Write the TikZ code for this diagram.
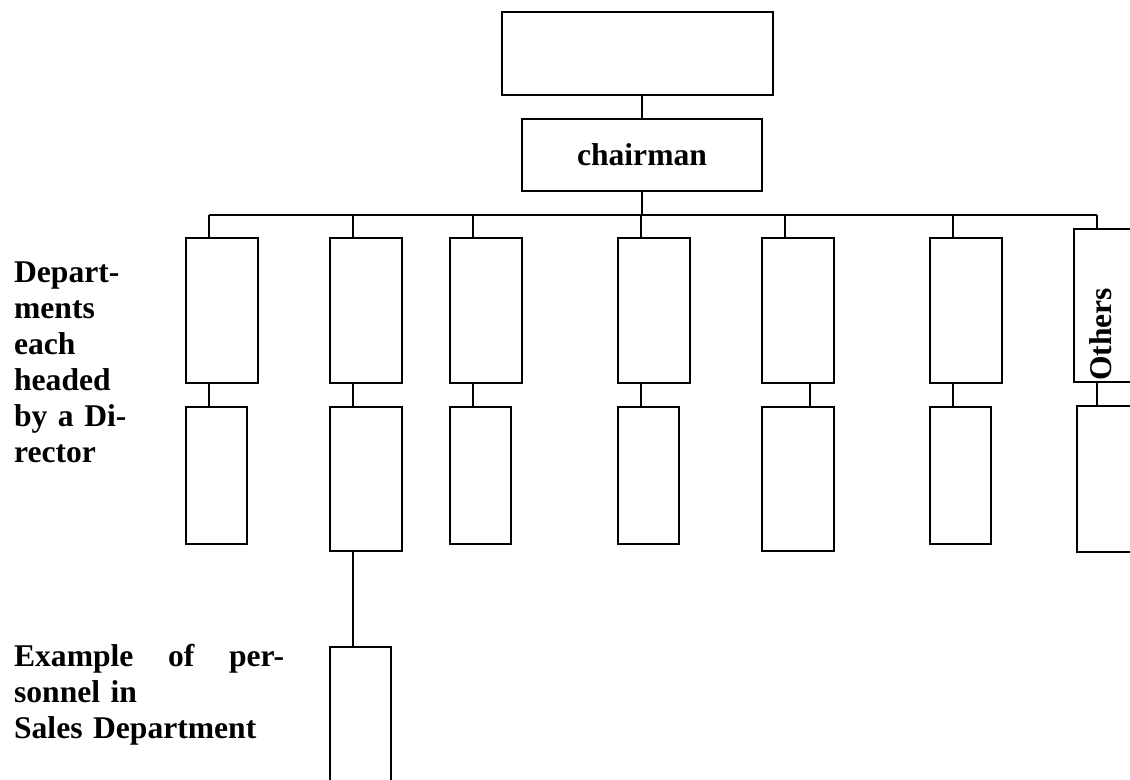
\documentclass[tikz,border=0pt]{standalone}
\usepackage{fontspec}
\setmainfont{Liberation Serif}
\usepackage{tikz}

\begin{document}
\begin{tikzpicture}[
  x=0.5pt, y=-0.5pt,
  line width=1.1pt,
  every node/.style={font=\fontsize{15.8pt}{18pt}\selectfont\bfseries},
  unit/.style={draw, inner sep=0pt, minimum width=36pt, minimum height=72.5pt},
  sub/.style={draw, inner sep=0pt, minimum width=30.5pt, minimum height=68.5pt},
  subwide/.style={sub, minimum width=36pt, minimum height=72pt},
  sidenote/.style={anchor=base west, inner sep=0pt, align=left},
]
\useasboundingbox (0,0) rectangle (1130,780);

% Top of the chart
\node[draw, minimum width=135.5pt, minimum height=41.5pt] (top) at (637.5,53.5) {};
\node[draw, minimum width=120pt, minimum height=36pt] (chair) at (642,155) {chairman};

% Departments
\node[unit] (c1) at (222,310.5) {};
\node[unit] (c2) at (366,310.5) {};
\node[unit] (c3) at (486,310.5) {};
\node[unit] (c4) at (654,310.5) {};
\node[unit] (c5) at (798,310.5) {};
\node[unit] (c6) at (966,310.5) {};
\node[unit, minimum height=76.5pt] (c7) at (1110,305.5) {};
\node[rotate=90, anchor=base west, inner sep=0pt] (oth) at (1111,382) {Others};

% Second level
\node[sub] (d1) at (216.5,475.5) {};
\node[subwide] (d2) at (366,479) {};
\node[sub] (d3) at (480.5,475.5) {};
\node[sub] (d4) at (648.5,475.5) {};
\node[subwide] (d5) at (798,479) {};
\node[sub] (d6) at (960.5,475.5) {};
\node[subwide, minimum height=73pt] (d7) at (1113,479) {};

% Sales personnel
\node[sub, minimum height=86.5pt] (e1) at (360.5,733.5) {};

% Side notes
\node[sidenote, text width=60pt] (lbl1) at (13,283) {Depart-\\ments\\each\\headed\\by a Di-\\rector};
\node[sidenote, text width=135pt] (lbl2) at (13,666) {Example\hfill of\hfill per-\\sonnel in\\Sales Department};

% Connectors
\coordinate (bus) at (0,215);
\foreach \i in {1,...,7}
  \coordinate (t\i) at ([xshift=12pt]c\i.north west);
\draw (chair.north) -- (chair.north |- top.south);
\draw (chair.south) -- (chair.south |- bus);
\draw (t1 |- bus) -- (t7 |- bus);
\foreach \i in {1,...,7}
  \draw (t\i) -- (t\i |- bus);
\foreach \i in {1,2,3,4,6,7}
  \draw (t\i |- c\i.south) -- (t\i |- d\i.north);
\coordinate (m5) at ([xshift=6pt]c5.south);
\draw (m5) -- (m5 |- d5.north);
\draw (t2 |- d2.south) -- (t2 |- e1.north);

\end{tikzpicture}
\end{document}
